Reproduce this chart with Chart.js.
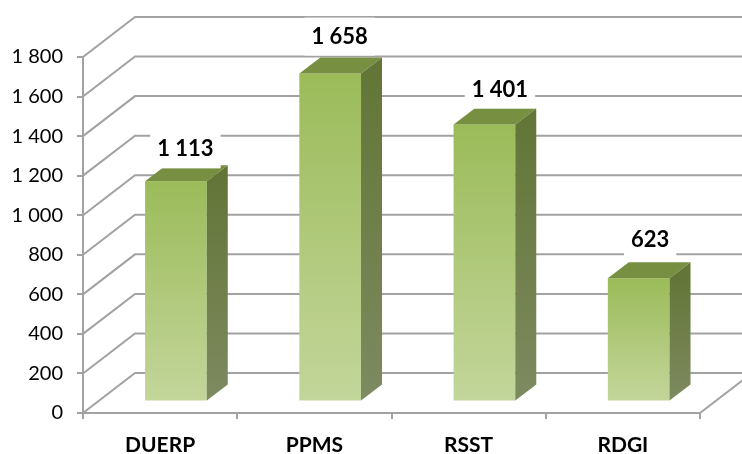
<!DOCTYPE html>
<html lang="fr">
<head>
    <meta charset="UTF-8">
    <title>Bar chart</title>
    <script src="https://cdn.jsdelivr.net/npm/chart.js"></script>
    <style>
        html, body { margin: 0; padding: 0; background: #fff; }
        canvas { display: block; }
    </style>
</head>
<body>
    <canvas id="chart" width="742" height="454"></canvas>
    <script>
        const categories = ['DUERP', 'PPMS', 'RSST', 'RDGI'];
        const values = [1113, 1658, 1401, 623];

        // 3D look: how far the walls and the bars go back
        const wallDepth = { x: 52, y: -40 };
        const barShift = { x: 15.8, y: -11.5 };
        const barDepth = { x: 21, y: -16 };
        // labels were placed by hand in the original
        const labelLift = [32, 37, 35, 38];
        const labelNudge = [-1, -1, 5, 1];
        const gridColor = '#a2a2a2';
        const fontFamily = "Lato, 'Open Sans', sans-serif";

        const formatNumber = v => String(v).replace(/\B(?=(\d{3})+$)/g, ' ');

        function vGradient(c, y0, y1, from, to) {
            const g = c.createLinearGradient(0, y0, 0, y1);
            g.addColorStop(0, from);
            g.addColorStop(1, to);
            return g;
        }

        const depthPlugin = {
            id: 'depth',
            beforeDatasetsDraw(chart) {
                const c = chart.ctx;
                const y = chart.scales.y;
                const { left, right } = chart.chartArea;
                c.save();
                c.strokeStyle = gridColor;
                c.lineWidth = 2;
                y.ticks.forEach(t => {
                    const py = y.getPixelForValue(t.value);
                    c.beginPath();
                    c.moveTo(left, py);
                    c.lineTo(left + wallDepth.x, py + wallDepth.y);
                    c.lineTo(right + wallDepth.x, py + wallDepth.y);
                    c.stroke();
                });
                // right edge of the floor
                const y0 = y.getPixelForValue(0);
                c.beginPath();
                c.moveTo(right, y0);
                c.lineTo(right + wallDepth.x, y0 + wallDepth.y);
                c.stroke();
                c.restore();
                // bars sit in the middle of the floor
                c.save();
                c.translate(barShift.x, barShift.y);
            },
            afterDatasetsDraw(chart) {
                const c = chart.ctx;
                const bars = chart.getDatasetMeta(0).data;
                bars.forEach(b => {
                    const x0 = b.x - b.width / 2;
                    const x1 = b.x + b.width / 2;
                    // top face
                    c.fillStyle = '#768f40';
                    c.beginPath();
                    c.moveTo(x0, b.y);
                    c.lineTo(x1, b.y);
                    c.lineTo(x1 + barDepth.x, b.y + barDepth.y);
                    c.lineTo(x0 + barDepth.x, b.y + barDepth.y);
                    c.closePath();
                    c.fill();
                    // side face
                    c.fillStyle = vGradient(c, b.y, b.base, '#637638', '#7e8a60');
                    c.beginPath();
                    c.moveTo(x1, b.y);
                    c.lineTo(x1 + barDepth.x, b.y + barDepth.y);
                    c.lineTo(x1 + barDepth.x, b.base + barDepth.y);
                    c.lineTo(x1, b.base);
                    c.closePath();
                    c.fill();
                });
                c.restore();

                // value labels on a white box
                c.save();
                c.font = 'bold 22px ' + fontFamily;
                c.textAlign = 'center';
                c.textBaseline = 'middle';
                bars.forEach((b, i) => {
                    const txt = formatNumber(values[i]);
                    const cx = b.x + barShift.x + barDepth.x / 2 + labelNudge[i];
                    const cy = b.y + barShift.y - labelLift[i];
                    const w = c.measureText(txt).width + 14;
                    c.fillStyle = '#fff';
                    c.fillRect(cx - w / 2, cy - 19, w, 38);
                    c.fillStyle = '#000';
                    c.fillText(txt, cx, cy);
                });
                c.restore();
            }
        };

        new Chart(document.getElementById('chart'), {
            type: 'bar',
            data: {
                labels: categories,
                datasets: [{
                    data: values,
                    clip: false,
                    borderWidth: 0,
                    categoryPercentage: 0.4,
                    barPercentage: 1,
                    backgroundColor(ctx) {
                        const y = ctx.chart.scales.y;
                        const top = y.getPixelForValue(ctx.raw);
                        const bottom = y.getPixelForValue(0);
                        // scale may not be laid out yet on the first pass
                        if (!Number.isFinite(top) || !Number.isFinite(bottom)) return '#9bbb59';
                        return vGradient(ctx.chart.ctx, top, bottom, '#9bbb59', '#c3d69b');
                    }
                }]
            },
            options: {
                responsive: false,
                animation: false,
                layout: { padding: { top: 57, right: 42, left: 0, bottom: 0 } },
                plugins: { legend: { display: false }, tooltip: { enabled: false } },
                scales: {
                    x: {
                        afterFit(s) { s.height = 41; },
                        border: { color: gridColor, width: 2 },
                        grid: { color: gridColor, lineWidth: 2, drawOnChartArea: false, tickLength: 6 },
                        ticks: { color: '#000', padding: 14, font: { family: fontFamily, size: 21, weight: 'bold' } }
                    },
                    y: {
                        min: 0,
                        max: 1800,
                        afterFit(s) { s.width = 83; },
                        border: { color: gridColor, width: 2 },
                        grid: { color: gridColor, lineWidth: 2, drawOnChartArea: false, tickLength: 6 },
                        ticks: {
                            stepSize: 200,
                            color: '#000',
                            padding: 14,
                            font: { family: fontFamily, size: 20 },
                            callback: v => formatNumber(v)
                        }
                    }
                }
            },
            plugins: [depthPlugin]
        });
    </script>
</body>
</html>
